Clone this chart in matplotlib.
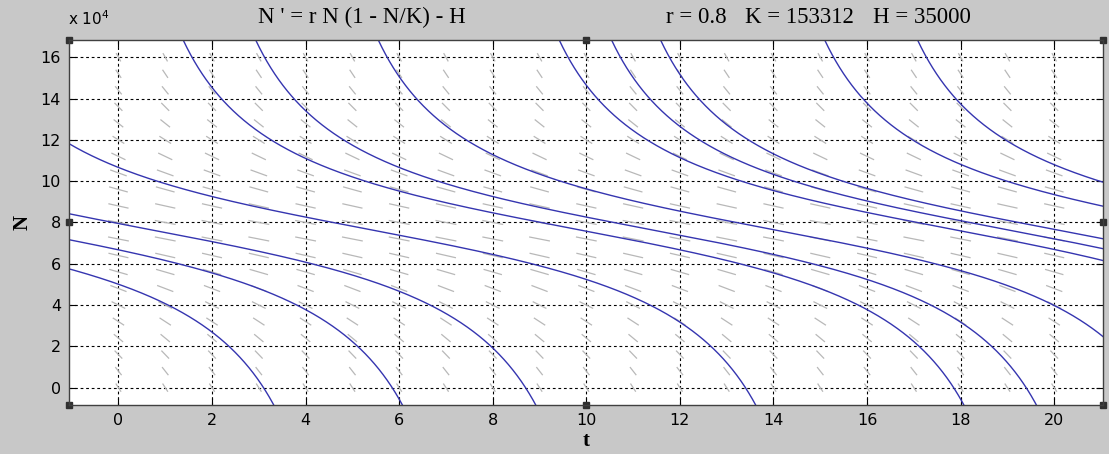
import numpy as np
import matplotlib.pyplot as plt
from matplotlib.collections import LineCollection

# equation parameters, as printed in the title
r = 0.8
K = 153312
H = 35000

# plot window
t_lim = (-1.05, 21.05)
N_lim = (-8400, 168400)

# one point (t, N)
seed_t = [3.1, 5.85, 8.7, 13.4, 17.85, 19.4, 21.0, 21.0, 21.0, 21.0, 21.0, 21.0]
seed_N = [0, 0, 0, 0, 0, 0, 25500, 61800, 67500, 72300, 88100, 99800]

# ticks
x_ticks = [0, 2, 4, 6, 8, 10, 12, 14, 16, 18, 20]
y_ticks = [0, 20000, 40000, 60000, 80000, 100000, 120000, 140000, 160000]
y_labels = ['0', '2', '4', '6', '8', '10', '12', '14', '16']

# direction field sample points
field_t = np.arange(0, 21)
field_N = np.linspace(0, 160000, 21)


def f(t, N):
    return r * N * (1 - N / K) - H


def solve(t, N, dt):
    ts, Ns = [t], [N]
    while (t_lim[0] - 0.2 < t < t_lim[1] + 0.2) and (N_lim[0] - 20000 < N < N_lim[1] + 20000):
        k1 = f(t, N)
        k2 = f(t + dt / 2, N + dt / 2 * k1)
        k3 = f(t + dt / 2, N + dt / 2 * k2)
        k4 = f(t + dt, N + dt * k3)
        N = N + dt / 6 * (k1 + 2 * k2 + 2 * k3 + k4)
        t = t + dt
        ts.append(t)
        Ns.append(N)
    return ts, Ns


fig = plt.figure(figsize=(11.09, 4.54), dpi=100)
fig.patch.set_facecolor('#c8c8c8')
ax = fig.add_axes([0.0625, 0.108, 0.9324, 0.804])
ax.set_facecolor('white')

# direction field: segments of equal length in axes units
T, NN = np.meshgrid(field_t, field_N)
S = f(T, NN)
wt = t_lim[1] - t_lim[0]
wn = N_lim[1] - N_lim[0]
dx = np.ones_like(S) / wt
dy = S / wn
L = np.hypot(dx, dy)
ell = 0.023
ht = 0.5 * ell * dx / L * wt
hn = 0.5 * ell * dy / L * wn
segs = [[(t - a, n - b), (t + a, n + b)] for t, n, a, b in
        zip(T.ravel(), NN.ravel(), ht.ravel(), hn.ravel())]
ax.add_collection(LineCollection(segs, colors='#b8b8b8', linewidths=0.9))

# solution curves
for t0, n0 in zip(seed_t, seed_N):
    tb, nb = solve(t0, n0, -0.005)
    tf, nf = solve(t0, n0, 0.005)
    ts = tb[::-1] + tf[1:]
    ns = nb[::-1] + nf[1:]
    ax.plot(ts, ns, color='#3535b0', lw=1.0)

ax.set_xlim(t_lim)
ax.set_ylim(N_lim)
ax.set_xticks(x_ticks)
ax.set_xticklabels([str(v) for v in x_ticks])
ax.set_yticks(y_ticks)
ax.set_yticklabels(y_labels)
ax.tick_params(direction='in', length=5, top=True, right=True, labelsize=11.5, pad=6)
ax.grid(True, color='black', linestyle=(0, (2.5, 2.5)), linewidth=0.8)
for s in ax.spines.values():
    s.set_color('#404040')
    s.set_linewidth(1.0)

ax.set_xlabel('t', family='Liberation Serif', fontsize=15, fontweight='bold', labelpad=2)
ax.set_ylabel('N', family='Liberation Serif', fontsize=15, fontweight='bold', labelpad=6)

fig.text(68 / 1109, 1 - 25 / 454, r'x 10$^{4}$', fontsize=11, ha='left', va='baseline')

title_font = dict(family='Liberation Serif', fontsize=16.5, va='baseline')
fig.text(258 / 1109, 1 - 23 / 454, "N ' = r N (1 - N/K) - H", ha='left', **title_font)
fig.text(666 / 1109, 1 - 23 / 454, 'r = 0.8', ha='left', **title_font)
fig.text(745 / 1109, 1 - 23 / 454, 'K = 153312', ha='left', **title_font)
fig.text(873 / 1109, 1 - 23 / 454, 'H = 35000', ha='left', **title_font)

# selection handles on the axes frame
hx = [0, 0.5, 1, 0, 1, 0, 0.5, 1]
hy = [0, 0, 0, 0.5, 0.5, 1, 1, 1]
ax.plot(hx, hy, 's', ms=5, color='#303030', transform=ax.transAxes, clip_on=False)

fig.savefig('out.png', dpi=100, facecolor=fig.get_facecolor())
